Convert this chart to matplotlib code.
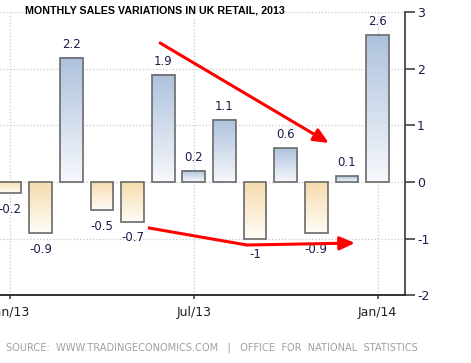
import numpy as np
import matplotlib.pyplot as plt
from matplotlib.colors import LinearSegmentedColormap

# monthly % change in UK retail sales, Jan/13 .. Jan/14
months = ['Jan/13', 'Feb/13', 'Mar/13', 'Apr/13', 'May/13', 'Jun/13', 'Jul/13',
          'Aug/13', 'Sep/13', 'Oct/13', 'Nov/13', 'Dec/13', 'Jan/14']
values = [-0.2, -0.9, 2.2, -0.5, -0.7, 1.9, 0.2, 1.1, -1.0, 0.6, -0.9, 0.1, 2.6]
tick_labels = ['Jan/13', 'Jul/13', 'Jan/14']
tick_idx = [0, 6, 12]

fig = plt.figure(figsize=(4.71, 3.63), dpi=100)
ax = fig.add_axes([0.0, 0.1873, 0.859, 0.7783])

x = np.arange(len(values))
bars = ax.bar(x, values, width=0.74, facecolor='none', edgecolor='#6a6a6a',
              linewidth=1.2, zorder=3)

# gradient fill per bar: dark at the top, fading towards white
pos_cmap = LinearSegmentedColormap.from_list('pos', ['#f6f8fc', '#aec2dd'])
neg_cmap = LinearSegmentedColormap.from_list('neg', ['#fffcf6', '#f6dcae'])
grad = np.linspace(0, 1, 100).reshape(-1, 1)
for rect, v in zip(bars, values):
    x0, w = rect.get_x(), rect.get_width()
    y0, h = rect.get_y(), rect.get_height()
    cmap = pos_cmap if v >= 0 else neg_cmap
    ax.imshow(grad, cmap=cmap, aspect='auto', origin='lower',
              extent=(x0, x0 + w, min(y0, y0 + h), max(y0, y0 + h)),
              interpolation='bilinear', zorder=2)

# value labels
for xi, v in zip(x, values):
    if v >= 0:
        ax.annotate('%g' % v, (xi, v), xytext=(0, 5), textcoords='offset points',
                    ha='center', va='bottom', fontsize=8.5, color='#1c1c4c')
    else:
        ax.annotate('%g' % v, (xi, v), xytext=(0, -7), textcoords='offset points',
                    ha='center', va='top', fontsize=8.5, color='#1c1c4c')

# red arrows
ax.annotate('', xy=(10.41, 0.69), xytext=(4.9, 2.46),
            arrowprops=dict(arrowstyle='-|>,head_length=0.9,head_width=0.4',
                            color='#ff0000', lw=2.2, shrinkA=0, shrinkB=0), zorder=5)
ax.plot([4.5, 7.73], [-0.81, -1.115], color='#ff0000', lw=2.2, zorder=5,
        solid_capstyle='butt')
ax.annotate('', xy=(11.26, -1.08), xytext=(7.73, -1.115),
            arrowprops=dict(arrowstyle='-|>,head_length=0.9,head_width=0.4',
                            color='#ff0000', lw=2.2, shrinkA=0, shrinkB=0), zorder=5)

ax.set_xlim(-0.326, 12.88)
ax.set_ylim(-2, 3)
ax.set_xticks(tick_idx)
ax.set_xticklabels(tick_labels)
ax.set_yticks([-2, -1, 0, 1, 2, 3])
ax.set_yticklabels(['-2', '-1', '0', '1', '2', '3'])
ax.yaxis.tick_right()
ax.tick_params(axis='y', direction='out', length=7, width=1.1, pad=2,
               labelsize=9, labelcolor='#1c1c4c', color='#333333')
ax.tick_params(axis='x', direction='out', length=3, width=1.1, pad=5,
               labelsize=9, labelcolor='#222222', color='#333333')

ax.grid(True, linestyle=':', color='#c8c8c8', linewidth=0.9, zorder=0)
ax.set_axisbelow(True)
for s in ['left', 'top']:
    ax.spines[s].set_visible(False)
ax.spines['bottom'].set_color('#222222')
ax.spines['bottom'].set_linewidth(1.3)
ax.spines['right'].set_color('#444444')
ax.spines['right'].set_linewidth(1.3)

fig.text(0.053, 0.97, 'MONTHLY SALES VARIATIONS IN UK RETAIL, 2013',
         fontsize=7.7, fontweight='bold', family='Liberation Sans', color='black',
         ha='left', va='center',
         bbox=dict(facecolor='white', edgecolor='none', pad=1))
fig.text(0.013, 0.041,
         'SOURCE:  WWW.TRADINGECONOMICS.COM   |   OFFICE  FOR  NATIONAL  STATISTICS',
         fontsize=7.1, color='#a0a0a0', ha='left', va='center')

fig.savefig('out.png', dpi=100)
